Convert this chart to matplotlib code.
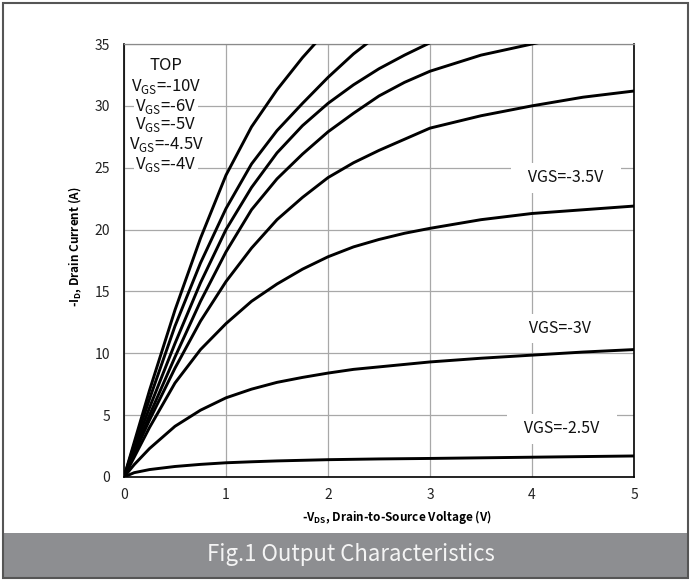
import numpy as np
import matplotlib
matplotlib.use('Agg')
import matplotlib.pyplot as plt
from matplotlib.patches import Rectangle

plt.rcParams['font.family'] = ['Noto Sans CJK SC', 'DejaVu Sans']
plt.rcParams['mathtext.fontset'] = 'custom'
plt.rcParams['mathtext.rm'] = 'Noto Sans CJK SC'
plt.rcParams['mathtext.bf'] = 'Noto Sans CJK SC:bold'

nan = np.nan
vds = [0, 0.1, 0.25, 0.5, 0.75, 1.0, 1.25, 1.5, 1.75, 2.0, 2.25, 2.5, 2.75, 3.0, 3.5, 4.0, 4.5, 5.0]

id_10 = [0, 2.8, 7.0, 13.5, 19.3, 24.4, 28.3, 31.3, 33.9, 36.2, nan, nan, nan, nan, nan, nan, nan, nan]
id_6 = [0, 2.6, 6.3, 12.2, 17.3, 21.7, 25.3, 28.0, 30.2, 32.3, 34.2, 35.8, nan, nan, nan, nan, nan, nan]
id_5 = [0, 2.3, 5.6, 10.8, 15.7, 20.0, 23.4, 26.2, 28.4, 30.2, 31.7, 33.0, 34.1, 35.1, nan, nan, nan, nan]
id_45 = [0, 2.0, 5.0, 9.7, 14.2, 18.2, 21.6, 24.1, 26.1, 27.9, 29.4, 30.8, 31.9, 32.8, 34.1, 35.0, 35.9, nan]
id_4 = [0, 1.9, 4.6, 8.8, 12.6, 15.8, 18.5, 20.8, 22.6, 24.2, 25.4, 26.4, 27.3, 28.2, 29.2, 30.0, 30.7, 31.2]
id_35 = [0, 1.6, 4.0, 7.6, 10.3, 12.4, 14.2, 15.6, 16.8, 17.8, 18.6, 19.2, 19.7, 20.1, 20.8, 21.3, 21.6, 21.9]
id_3 = [0, 1.0, 2.3, 4.1, 5.4, 6.4, 7.1, 7.65, 8.05, 8.4, 8.7, 8.9, 9.1, 9.3, 9.6, 9.85, 10.1, 10.3]
id_25 = [0, 0.35, 0.6, 0.85, 1.02, 1.15, 1.23, 1.3, 1.35, 1.4, 1.43, 1.46, 1.48, 1.5, 1.55, 1.6, 1.65, 1.7]

curves = [id_10, id_6, id_5, id_45, id_4, id_35, id_3, id_25]

top_labels = ['TOP', r'V$_\mathrm{GS}$=-10V', r'V$_\mathrm{GS}$=-6V', r'V$_\mathrm{GS}$=-5V',
              r'V$_\mathrm{GS}$=-4.5V', r'V$_\mathrm{GS}$=-4V']
side_labels = ['VGS=-3.5V', 'VGS=-3V', 'VGS=-2.5V']
side_pos = [(4.33, 24.2), (4.27, 12.0), (4.29, 3.9)]

W, H = 691, 581
fig = plt.figure(figsize=(W / 100, H / 100), dpi=100)
ax = fig.add_axes([124 / W, 104 / H, 510 / W, 433 / H])

for y in curves:
    ax.plot(vds, y, color='black', lw=2.1, solid_capstyle='round', solid_joinstyle='round', zorder=3)

ax.set_xlim(0, 5)
ax.set_ylim(0, 35)
ax.set_xticks(range(0, 6))
ax.set_yticks(range(0, 36, 5))
ax.grid(color='#a8a8a8', lw=0.9)
ax.set_axisbelow(True)
ax.tick_params(axis='both', length=0, labelsize=10, colors='#222222')
ax.tick_params(axis='x', pad=8)
ax.tick_params(axis='y', pad=10)
for s in ['left', 'bottom', 'right']:
    ax.spines[s].set_linewidth(1.2)
    ax.spines[s].set_color('black')
ax.spines['top'].set_color('#8a8a8a')
ax.spines['top'].set_linewidth(0.9)

# TOP legend block
ys = [66, 86, 106, 125, 144, 164]
for lab, ypx in zip(top_labels, ys):
    ax.text((166 - 124) / 510, (477 - ypx) / 433, lab, transform=ax.transAxes,
            ha='center', va='center', fontsize=12, color='#111111', zorder=4,
            bbox=dict(boxstyle='square,pad=0.1', fc='white', ec='none'))

for lab, (x, y) in zip(side_labels, side_pos):
    ax.text(x, y, '   ' + lab + '   ', ha='center', va='center', fontsize=11.5,
            color='#111111', zorder=4,
            bbox=dict(boxstyle='square,pad=0.4', fc='white', ec='none'))

fig.text(75 / W, (581 - 247) / H, r'-I$_\mathbf{D}$, Drain Current (A)', rotation=90,
         ha='center', va='center', fontsize=8.5, fontweight='bold')
fig.text(397 / W, (581 - 521) / H, r'-V$_\mathbf{DS}$, Drain-to-Source Voltage (V)',
         ha='center', va='baseline', fontsize=8.5, fontweight='bold')

# bottom banner and frame
fig.patches.append(Rectangle((4 / W, 4 / H), 683 / W, 44 / H, transform=fig.transFigure,
                             facecolor='#8d8e91', edgecolor='none', zorder=5))
fig.patches.append(Rectangle((3 / W, 3 / H), 685 / W, 575 / H, transform=fig.transFigure,
                             fill=False, edgecolor='#555555', lw=1.5, zorder=6))
fig.text(351 / W, (581 - 555) / H, 'Fig.1 Output Characteristics', ha='center', va='center',
         fontsize=16, fontweight='light', color='#f4f4f4', zorder=7)

plt.savefig('out.png', dpi=100)
